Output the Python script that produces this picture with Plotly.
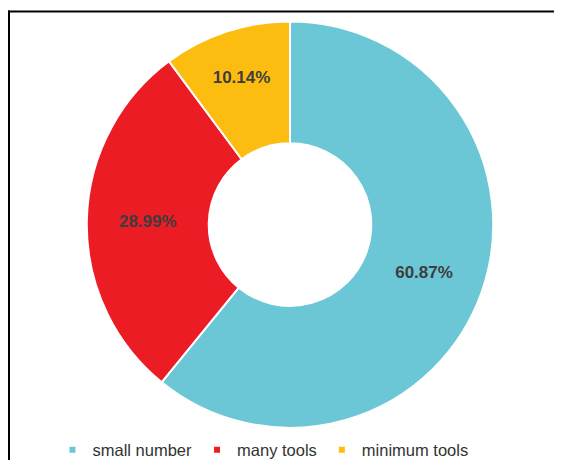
import plotly.graph_objects as go

categories = ["small number", "many tools", "minimum tools"]
counts = [42, 20, 7]
colors = ["#6BC7D6", "#EC1C24", "#FDBD10"]

W, H = 562, 460

fig = go.Figure()
fig.add_trace(go.Pie(
    labels=categories,
    values=counts,
    marker=dict(colors=colors, line=dict(color="white", width=2)),
    hole=0.40,
    sort=False,
    direction="clockwise",
    rotation=0,
    texttemplate="%{percent:.2%}",
    textposition="inside",
    insidetextorientation="horizontal",
    textfont=dict(family="Liberation Sans, Arial, sans-serif", size=17, color="#3D3D3D", weight="bold"),
    showlegend=False,
    domain=dict(x=[77 / W, 487 / W], y=[1 - 423.5 / H, 1 - 13.5 / H]),
    hoverinfo="label+percent",
))

for name, c in zip(categories, colors):
    fig.add_trace(go.Scatter(
        x=[None], y=[None], mode="markers", name=name,
        marker=dict(symbol="square", size=6, color=c),
        showlegend=True,
    ))

fig.update_layout(
    width=W, height=H,
    margin=dict(l=0, r=0, t=0, b=0),
    paper_bgcolor="white",
    plot_bgcolor="white",
    xaxis=dict(visible=False),
    yaxis=dict(visible=False),
    legend=dict(
        orientation="h",
        x=255 / W, xanchor="center",
        y=1 - 446 / H, yanchor="middle",
        font=dict(family="Liberation Sans, Arial, sans-serif", size=16.5, color="#333333"),
        itemwidth=30,
        bgcolor="rgba(0,0,0,0)",
    ),
    shapes=[
        dict(type="rect", xref="paper", yref="paper",
             x0=0, x1=1.0, y0=1 - 4.5 / H, y1=1 - 2.5 / H,
             line=dict(width=0), fillcolor="black", layer="above"),
        dict(type="rect", xref="paper", yref="paper",
             x0=0, x1=2 / W, y0=0.0, y1=1 - 2.5 / H,
             line=dict(width=0), fillcolor="black", layer="above"),
    ],
)

fig.write_html("out.html")
